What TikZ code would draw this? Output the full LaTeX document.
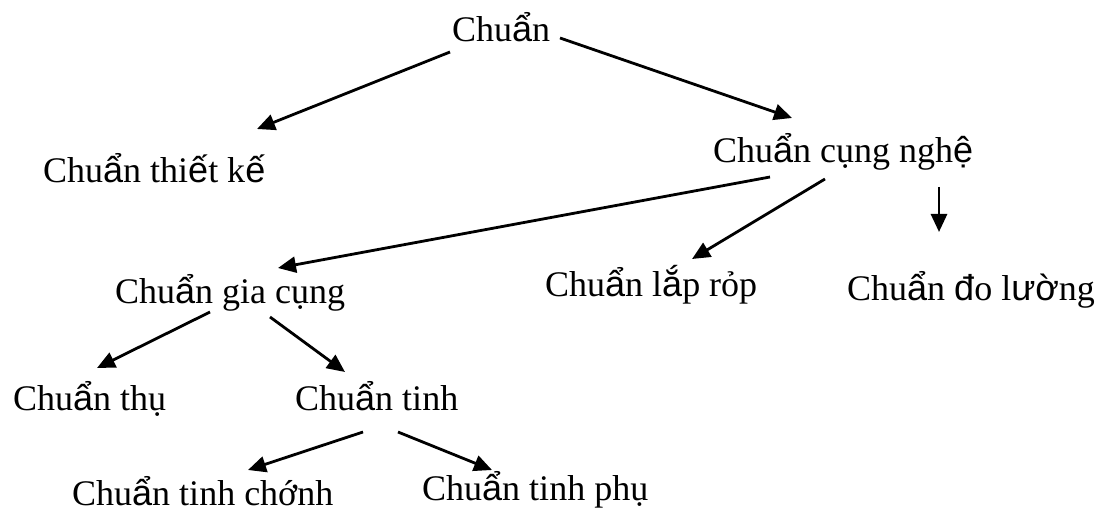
\documentclass[tikz,border=0pt]{standalone}
\usepackage{fontspec}
\setmainfont{Liberation Serif}
\newfontfamily\svfont{Liberation Sans}
\newcommand\sv[1]{{\svfont #1}}
\usetikzlibrary{arrows.meta,calc}
\tikzset{
  lbl/.style={anchor=base west, inner sep=0pt, font=\fontsize{36}{40}\selectfont},
  arr/.style={line width=2.8pt, -{Triangle[length=18pt,width=16pt]}}
}
\begin{document}
\begin{tikzpicture}[x=1pt,y=-1pt]
\useasboundingbox (0,0) rectangle (1115,510);
\node[lbl] (top) at (452,42) {Chu\sv{ẩ}n};
\node[lbl] (tk) at (43,183) {Chu\sv{ẩ}n thi\sv{ế}t k\sv{ế}};
\node[lbl] (cn) at (713,163) {Chu\sv{ẩ}n cụng ngh\sv{ệ}};
\node[lbl] (gc) at (115,303) {Chu\sv{ẩ}n gia cụng};
\node[lbl] (lr) at (545,297) {Chu\sv{ẩ}n l\sv{ắ}p rỏp};
\node[lbl] (dl) at (847,301) {Chu\sv{ẩ}n \sv{đ}o l\sv{ườ}ng};
\node[lbl] (th) at (13,410) {Chu\sv{ẩ}n thụ};
\node[lbl] (ti) at (295,410) {Chu\sv{ẩ}n tinh};
\node[lbl] (tc) at (72,505) {Chu\sv{ẩ}n tinh chớnh};
\node[lbl] (tp) at (422,500) {Chu\sv{ẩ}n tinh phụ};

\draw[arr] ($(top.base west)+(-2,10)$) -- ($(tk.base west)+(214,-54)$);
\draw[arr] ($(top.base west)+(108,-4)$) -- ($(cn.base west)+(79,-45)$);
\draw[arr] ($(cn.base west)+(57,14)$) -- ($(gc.base west)+(163,-35)$);
\draw[arr] ($(cn.base west)+(112,16)$) -- ($(lr.base west)+(147,-38)$);
\draw[arr] ($(cn.base west)+(226,24)$) -- ($(dl.base west)+(92,-69)$);
\draw[arr] ($(gc.base west)+(95,9)$) -- ($(th.base west)+(84,-42)$);
\draw[arr] ($(gc.base west)+(155,14)$) -- ($(ti.base west)+(50,-38)$);
\draw[arr] ($(ti.base west)+(68,22)$) -- ($(tc.base west)+(176,-35)$);
\draw[arr] ($(ti.base west)+(103,22)$) -- ($(tp.base west)+(70,-30)$);
\end{tikzpicture}
\end{document}
